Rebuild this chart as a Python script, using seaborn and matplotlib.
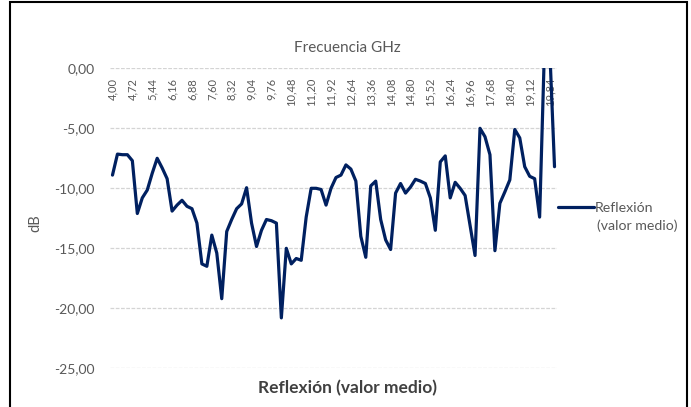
import matplotlib
matplotlib.use('Agg')
import matplotlib.pyplot as plt
import matplotlib.transforms as mtransforms
from matplotlib.patches import Rectangle
import seaborn as sns
import pandas as pd
import numpy as np

sns.set_theme(style='white')
plt.rcParams['font.family'] = ['Lato', 'DejaVu Sans']

# frequency sweep (GHz), one point every 0.18 GHz
freq = np.round(4.00 + 0.18 * np.arange(90), 2)

# mean reflection (dB)
reflexion = [
    -8.9, -7.15, -7.2, -7.2, -7.7, -12.1, -10.8, -10.15, -8.75, -7.5,
    -8.3, -9.2, -11.9, -11.4, -11.0, -11.5, -11.7, -12.9, -16.3, -16.5,
    -13.9, -15.4, -19.2, -13.6, -12.6, -11.7, -11.3, -9.95, -12.9, -14.85,
    -13.5, -12.6, -12.7, -12.9, -20.8, -15.0, -16.3, -15.85, -16.0, -12.4,
    -10.0, -10.0, -10.1, -11.4, -10.0, -9.1, -8.9, -8.05, -8.4, -9.4,
    -14.0, -15.75, -9.8, -9.4, -12.6, -14.3, -15.1, -10.4, -9.6, -10.4,
    -9.9, -9.25, -9.4, -9.6, -10.8, -13.5, -7.8, -7.3, -10.8, -9.5,
    -10.0, -10.6, -13.1, -15.6, -5.0, -5.7, -7.2, -15.2, -11.25, -10.3,
    -9.3, -5.1, -5.8, -8.2, -9.0, -9.2, -12.4, 2.0, 2.0, -8.2,
]

y_ticks = [0, -5, -10, -15, -20, -25]
label_every = 4

df = pd.DataFrame({'freq': freq, 'db': reflexion})

W, H = 691, 407
fig = plt.figure(figsize=(W / 100, H / 100), dpi=100)
ax = fig.add_axes([110 / W, 1 - 368.3 / H, (557 - 110) / W, 300 / H])

sns.lineplot(data=df, x='freq', y='db', ax=ax, color='#002060', lw=2.3,
             label='Reflexión', zorder=3)

ax.set_xlim(freq[0] - 0.09, freq[-1] + 0.09)
ax.set_ylim(-25, 0)
ax.set_xlabel('')
ax.set_ylabel('')
ax.set_xticks([])
ax.set_yticks(y_ticks)
ax.set_yticklabels([f'{v:.2f}'.replace('.', ',') for v in y_ticks])
ax.tick_params(axis='y', length=0, pad=11, labelsize=10, labelcolor='#595959')
for s in ax.spines.values():
    s.set_visible(False)
ax.yaxis.grid(True, color='#d4d4d4', lw=0.9, ls=(0, (3, 1.2)))
ax.set_axisbelow(True)

# category labels sit just under the top (0 dB) axis line
trans = mtransforms.blended_transform_factory(ax.transData, ax.transAxes)
for f in freq[::label_every]:
    ax.text(f, 1 - 9.7 / 300, f'{f:.2f}'.replace('.', ','), transform=trans,
            rotation=90, ha='center', va='top', fontsize=8, color='#595959',
            zorder=1)

leg = ax.legend(loc='center left', bbox_to_anchor=(558 / W, 1 - 208 / H),
                bbox_transform=fig.transFigure, frameon=False, fontsize=10.2,
                handlelength=2.55, handletextpad=0.05, borderaxespad=0,
                borderpad=0)
for t in leg.get_texts():
    t.set_color('#595959')
fig.text(597 / W, 1 - 226 / H, '(valor medio)', ha='left', va='center',
         fontsize=10.2, color='#595959')

fig.text(347 / W, 1 - 48 / H, 'Frecuencia GHz', ha='center', va='center',
         fontsize=11, color='#595959')
fig.text(348 / W, 1 - 388 / H, 'Reflexión (valor medio)', ha='center',
         va='center', fontsize=12.5, fontweight='bold', color='#404040')
fig.text(35 / W, 1 - 223 / H, 'dB', rotation=90, ha='center', va='center',
         fontsize=10.5, color='#595959')

# chart border
fig.patches.append(Rectangle((10 / W, -0.1), (687 - 10) / W, 1.1 - 2 / H,
                             transform=fig.transFigure, fill=False,
                             ec='black', lw=1.5))

fig.savefig('out.png', dpi=100)
